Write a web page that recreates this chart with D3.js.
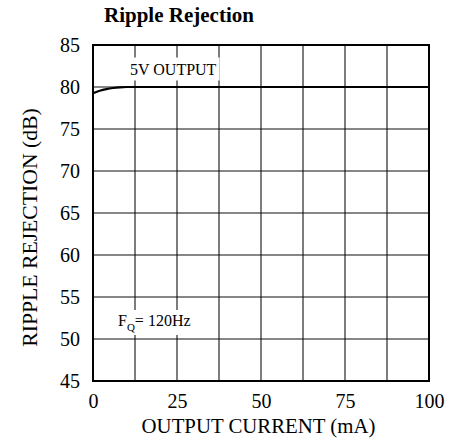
<!DOCTYPE html>
<html>
<head>
<meta charset="utf-8">
<script src="https://cdn.jsdelivr.net/npm/d3@7"></script>
<style>
  html, body { margin: 0; padding: 0; background: #fff; }
  svg { display: block; }
</style>
</head>
<body>
<svg id="chart" width="461" height="441"></svg>
<script>
// ---- data ----
const title = "Ripple Rejection";
const xLabel = "OUTPUT CURRENT (mA)";
const yLabel = "RIPPLE REJECTION (dB)";
const xTicks = [0, 25, 50, 75, 100];
const yTicks = [45, 50, 55, 60, 65, 70, 75, 80, 85];
const xGrid = [12.5, 25, 37.5, 50, 62.5, 75, 87.5];
const yGrid = [50, 55, 60, 65, 70, 75, 80];
const current = [0, 2, 4, 6, 8, 10, 12, 20, 50, 100];
const rejection = [79.25, 79.55, 79.75, 79.88, 79.96, 80, 80, 80, 80, 80];
const seriesLabel = "5V OUTPUT";
const condLabel = { main: "F", sub: "Q", rest: "= 120Hz" };

const FONT = "'Liberation Serif', 'Times New Roman', Times, serif";

// ---- layout ----
const svg = d3.select("#chart");
const L = 93, R = 429, T = 45, B = 381;
const x = d3.scaleLinear().domain([0, 100]).range([L, R]);
const y = d3.scaleLinear().domain([45, 85]).range([B, T]);

// grid
svg.append("g").selectAll("line").data(xGrid).join("line")
  .attr("x1", d => x(d)).attr("x2", d => x(d))
  .attr("y1", T).attr("y2", B)
  .attr("stroke", "#111").attr("stroke-width", 1.1);
svg.append("g").selectAll("line").data(yGrid).join("line")
  .attr("x1", L).attr("x2", R)
  .attr("y1", d => y(d)).attr("y2", d => y(d))
  .attr("stroke", "#111").attr("stroke-width", 1.1);

// axes (labels only)
const xAxis = svg.append("g").attr("transform", `translate(0,${B})`)
  .call(d3.axisBottom(x).tickValues(xTicks).tickSize(0).tickPadding(13).tickFormat(d3.format("d")));
xAxis.select(".domain").remove();
xAxis.selectAll("text").style("font-size", "20px").style("font-family", FONT).style("fill", "#000");

const yAxis = svg.append("g").attr("transform", `translate(${L},0)`)
  .call(d3.axisLeft(y).tickValues(yTicks).tickSize(0).tickPadding(13).tickFormat(d3.format("d")));
yAxis.select(".domain").remove();
yAxis.selectAll("text").style("font-size", "20px").style("font-family", FONT).style("fill", "#000");

// labels with white backgrounds
function boxedText(g, pad) {
  const bb = g.node().getBBox();
  g.insert("rect", ":first-child")
    .attr("x", bb.x - pad).attr("y", bb.y - pad)
    .attr("width", bb.width + 2 * pad).attr("height", bb.height + 2 * pad)
    .attr("fill", "#fff");
}
const g1 = svg.append("g");
g1.append("text").attr("x", 130).attr("y", 74.5)
  .style("font-size", "16px").style("font-family", FONT).text(seriesLabel);
boxedText(g1, 3);

const g2 = svg.append("g");
const t2 = g2.append("text").attr("x", 118).attr("y", 326)
  .style("font-size", "16px").style("font-family", FONT);
t2.append("tspan").text(condLabel.main);
t2.append("tspan").style("font-size", "11px").attr("dy", 5).text(condLabel.sub);
t2.append("tspan").attr("dy", -5).text(condLabel.rest);
boxedText(g2, 2);

// curve
const line = d3.line().x((d, i) => x(current[i])).y(d => y(d)).curve(d3.curveMonotoneX);
svg.append("path").datum(rejection).attr("d", line)
  .attr("fill", "none").attr("stroke", "#000").attr("stroke-width", 2.2);

// frame
svg.append("rect").attr("x", L).attr("y", T).attr("width", R - L).attr("height", B - T)
  .attr("fill", "none").attr("stroke", "#000").attr("stroke-width", 2);

// titles
svg.append("text").attr("x", 104).attr("y", 22)
  .style("font-size", "21px").style("font-weight", "bold").style("font-family", FONT).text(title);
svg.append("text").attr("x", 258.5).attr("y", 433).attr("text-anchor", "middle")
  .style("font-size", "20.8px").style("font-family", FONT).text(xLabel);
svg.append("text").attr("transform", `translate(37,227.5) rotate(-90)`)
  .attr("text-anchor", "middle").style("font-size", "21.7px").style("font-family", FONT).text(yLabel);
</script>
</body>
</html>
